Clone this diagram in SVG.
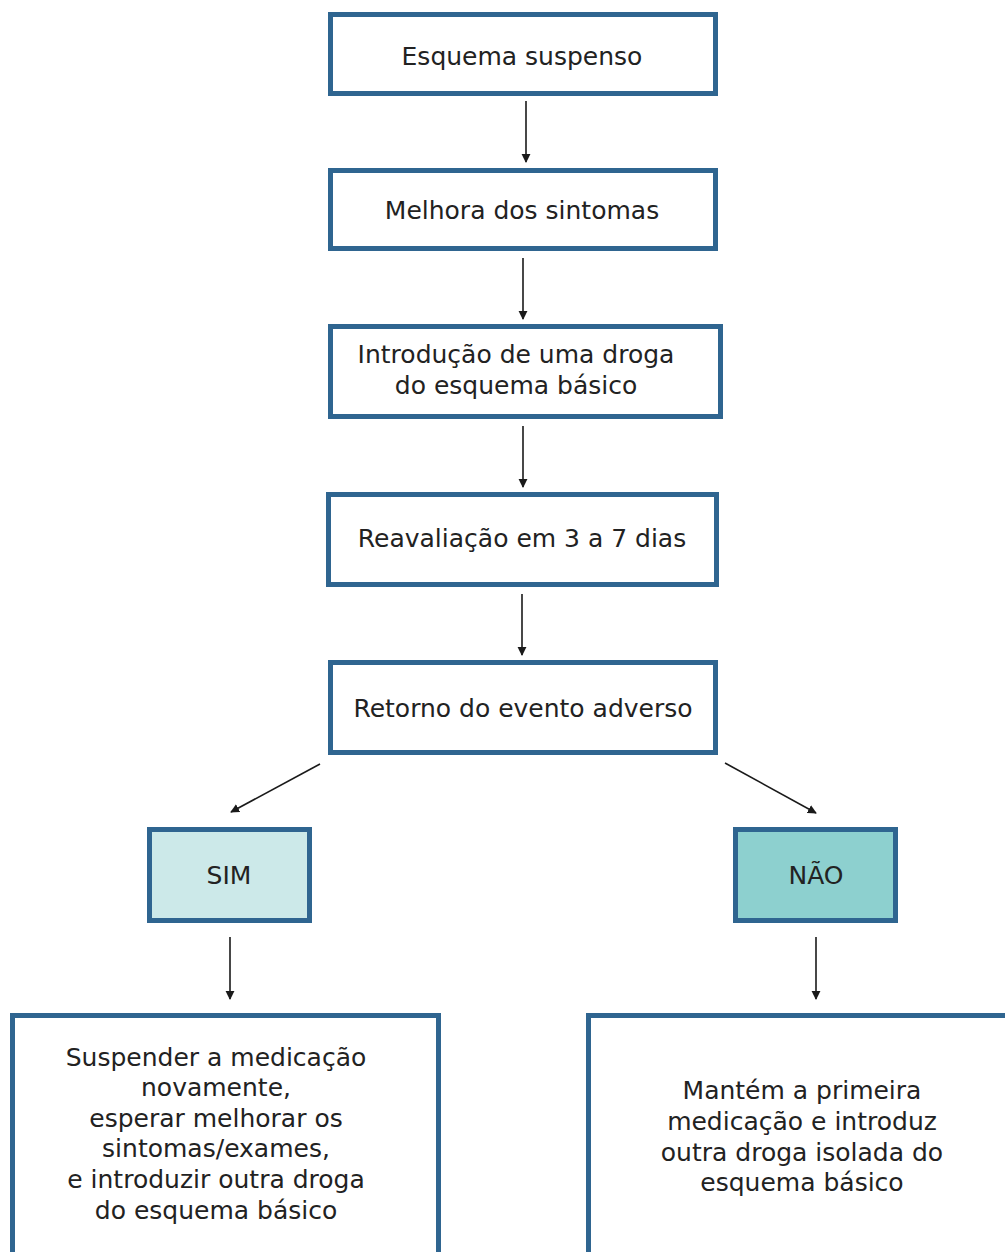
<svg xmlns="http://www.w3.org/2000/svg" width="1005" height="1252" viewBox="0 0 1005 1252">
<style>
.box{fill:#ffffff;stroke:#2f6590;stroke-width:5}
.sim{fill:#cce9e9;stroke:#2f6590;stroke-width:5}
.nao{fill:#8dd0cf;stroke:#2f6590;stroke-width:5}
text{font-family:"DejaVu Sans","Noto Sans",sans-serif;font-size:25px;fill:#222222;text-anchor:middle}
.conn line{stroke:#1a1a1a;stroke-width:1.6;marker-end:url(#ah)}
</style>
<defs>
<marker id="ah" viewBox="0 0 10 10" refX="9" refY="5" markerWidth="9" markerHeight="10" markerUnits="userSpaceOnUse" orient="auto">
<path d="M0,0 L10,5 L0,10 z" fill="#1a1a1a"/>
</marker>
</defs>
<rect width="1005" height="1252" fill="#ffffff"/>
<g id="n1"><rect class="box" x="330.5" y="14.5" width="385" height="79"/><text x="522" y="65">Esquema suspenso</text></g>
<g id="n2"><rect class="box" x="330.5" y="170.5" width="385" height="78"/><text x="522" y="219">Melhora dos sintomas</text></g>
<g id="n3"><rect class="box" x="330.5" y="326.5" width="390" height="90"/><text x="516" y="363">Introdução de uma droga</text><text x="516" y="394">do esquema básico</text></g>
<g id="n4"><rect class="box" x="328.5" y="494.5" width="388" height="90"/><text x="522" y="547">Reavaliação em 3 a 7 dias</text></g>
<g id="n5"><rect class="box" x="330.5" y="662.5" width="385" height="90"/><text x="523" y="717">Retorno do evento adverso</text></g>
<g id="sim"><rect class="sim" x="149.5" y="829.5" width="160" height="91"/><text x="229" y="884">SIM</text></g>
<g id="nao"><rect class="nao" x="735.5" y="829.5" width="160" height="91"/><text x="816" y="884">NÃO</text></g>
<g id="n6"><rect class="box" x="12.5" y="1015.5" width="426" height="260"/>
<text x="216" y="1066">Suspender a medicação</text>
<text x="216" y="1096">novamente,</text>
<text x="216" y="1127">esperar melhorar os</text>
<text x="216" y="1157">sintomas/exames,</text>
<text x="216" y="1188">e introduzir outra droga</text>
<text x="216" y="1219">do esquema básico</text></g>
<g id="n7"><rect class="box" x="588.5" y="1015.5" width="440" height="260"/>
<text x="802" y="1099">Mantém a primeira</text>
<text x="802" y="1130">medicação e introduz</text>
<text x="802" y="1161">outra droga isolada do</text>
<text x="802" y="1191">esquema básico</text></g>
<g id="connectors" class="conn">
<line x1="526" y1="101" x2="526" y2="162"/>
<line x1="523" y1="258" x2="523" y2="319"/>
<line x1="523" y1="426" x2="523" y2="487"/>
<line x1="522" y1="594" x2="522" y2="655"/>
<line x1="320" y1="764" x2="231" y2="812"/>
<line x1="725" y1="763" x2="816" y2="813"/>
<line x1="230" y1="937" x2="230" y2="999"/>
<line x1="816" y1="937" x2="816" y2="999"/>
</g>
</svg>
